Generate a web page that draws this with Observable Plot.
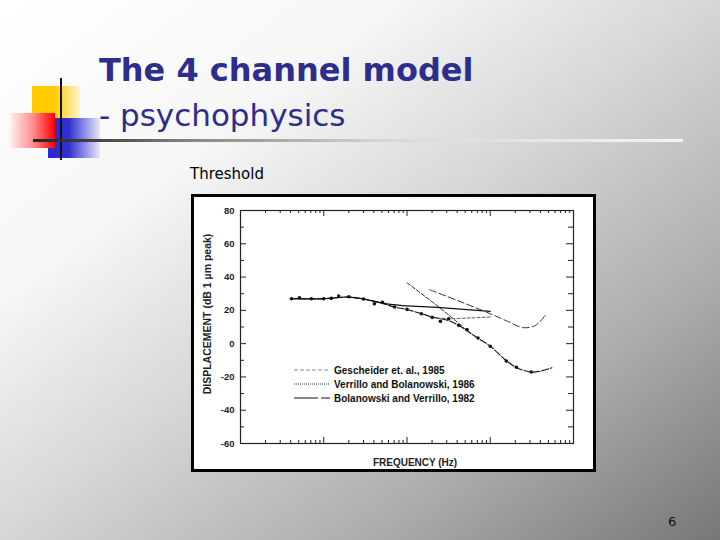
<!DOCTYPE html>
<html>
<head>
<meta charset="utf-8">
<script src="https://cdn.jsdelivr.net/npm/d3@7"></script>
<script src="https://cdn.jsdelivr.net/npm/@observablehq/plot@0.6"></script>
<style>
  html, body { margin: 0; padding: 0; }
  body {
    width: 720px; height: 540px; position: relative; overflow: hidden;
    background: linear-gradient(to bottom right, #ffffff 0%, #f6f6f6 28%, #d6d6d6 50%, #adadad 75%, #777777 100%);
    font-family: "DejaVu Sans", sans-serif;
  }
  .abs { position: absolute; }
  #t1 { left: 99px; top: 51px; font-size: 32px; font-weight: bold; color: #2d2d8c; white-space: nowrap; }
  #t2 { left: 99px; top: 97px; font-size: 31px; color: #2d2d8c; white-space: nowrap; }
  #sub { left: 190px; top: 165px; font-size: 15px; color: #000; }
  #num { left: 668px; top: 514px; font-size: 13px; color: #111; }
  #box { left: 191px; top: 194px; width: 399px; height: 272px; border: 3px solid #000; background: #fff; }
  #legend { left: 294px; top: 363px; font-family: "Liberation Sans", Arial, sans-serif; font-weight: bold; font-size: 10px; color: #111; }
  #legend div { height: 14px; display: flex; align-items: center; }
  #legend svg { margin-right: 4px; }
</style>
</head>
<body>
<!-- decorative squares -->
<div class="abs" style="left:32px;top:86px;width:48px;height:45px;background:linear-gradient(to right,#ffcc00 0%,#ffcc00 45%,#fff3cc 100%);"></div>
<div class="abs" style="left:48px;top:118px;width:52px;height:40px;background:linear-gradient(to right,#2a2ad0 0%,#3030d0 40%,#e8e8f8 100%);"></div>
<div class="abs" style="left:10px;top:113px;width:45px;height:35px;background:linear-gradient(to right,#fff0f0 0%,#ff9090 50%,#ff0000 100%);"></div>
<div class="abs" style="left:60px;top:78px;width:2px;height:82px;background:#111;"></div>
<div class="abs" style="left:33px;top:139px;width:650px;height:3px;background:linear-gradient(to right,#222 0%,#444 10%,#888 25%,#d8d8d8 55%,#f4f4f4 100%);"></div>

<div id="t1" class="abs">The 4 channel model</div>
<div id="t2" class="abs">- psychophysics</div>
<div id="sub" class="abs">Threshold</div>
<div id="box" class="abs"></div>
<div id="legend" class="abs"></div>
<div id="num" class="abs">6</div>

<script>
// ---- data ----
const xTicks = [0.1, 1, 10, 100, 1000];
const xTickLabels = ["0.1", "1.0", "10", "100", "1000"];
const yTicks = [-60, -40, -20, 0, 20, 40, 60, 80];
const yMinorTicks = [-50, -30, -10, 10, 30, 50, 70];

// measured points (filled dots)
const dotFreq = [0.41, 0.51, 0.71, 1.0, 1.23, 1.51, 2.0, 3.0, 4.06, 5.07, 7.1, 10, 14.9, 20, 25.2, 31.7, 41.8, 52.6, 71.3, 100, 156, 206, 311];
const dotDb   = [27.0, 27.6, 27.0, 27.0, 27.2, 28.6, 28.2, 26.8, 24.0, 24.8, 22.0, 20.6, 18.0, 15.8, 13.4, 15.0, 11.0, 8.4, 3.4, -1.6, -10.5, -14.2, -17.0];

// curve through the dots (Bolanowski and Verrillo, 1982)
const aFreq = [0.4, 1, 2, 3, 5, 7, 10, 15, 20, 30, 40, 50, 70, 100, 150, 200, 300, 400, 550];
const aDb   = [27, 27, 28, 26.8, 24.3, 22, 20.5, 18, 16, 14.2, 11.5, 8.5, 3.5, -1.5, -9.5, -14, -17, -16.5, -14.5];
// upper flat curve
const bFreq = [0.4, 1, 2, 3, 6.3, 25, 100];
const bDb   = [27, 27, 28, 26.8, 23.6, 21.6, 19.4];
// steep curve (Verrillo and Bolanowski, 1986)
const cFreq = [10, 24.7, 40, 55, 70];
const cDb   = [36.6, 21.6, 13, 7, 3.5];
// U-shaped curve (Gescheider et al., 1985)
const dFreq = [18.7, 40, 100, 160, 250, 350, 458];
const dDb   = [32.4, 26, 18, 13.5, 9.6, 11, 17];
// lower concave curve
const eFreq = [20, 33, 60, 100];
const eDb   = [15.5, 15, 15.5, 16];

const legendLabels = ["Gescheider et. al., 1985", "Verrillo and Bolanowski, 1986", "Bolanowski and Verrillo, 1982"];
const legendStroke = ["#888", "#333", "#111"];
const legendDash = ["4,2", "1,1", "24,3"];

const zip = (fs, ds) => fs.map((f, i) => ({f, db: ds[i]}));
const dots = zip(dotFreq, dotDb);
const curves = [
  {data: zip(aFreq, aDb), stroke: "#111", dash: "7,2", w: 1.1},
  {data: zip(bFreq, bDb), stroke: "#111", dash: null, w: 1.2},
  {data: zip(cFreq, cDb), stroke: "#222", dash: "4,2", w: 1},
  {data: zip(dFreq, dDb), stroke: "#333", dash: "7,3", w: 1},
  {data: zip(eFreq, eDb), stroke: "#555", dash: "3,2", w: 1}
];

const allX = d3.scaleLog().domain([0.1, 1000]).ticks();
const xMinor = allX.filter(v => !xTicks.includes(v));

const W = 399, H = 272, ML = 46, MR = 20, MT = 13, MB = 26;
const FW = W - ML - MR, FH = H - MT - MB;
const font = "Liberation Sans, Arial, sans-serif";

const chart = Plot.plot({
  width: W, height: H,
  marginLeft: ML, marginRight: MR, marginTop: MT, marginBottom: MB,
  style: {background: "transparent", fontFamily: font, fontSize: "9.5px", fontWeight: "bold", color: "#222"},
  x: {type: "log", domain: [0.1, 1000]},
  y: {domain: [-60, 80]},
  marks: [
    Plot.frame({stroke: "#222", strokeWidth: 1.2}),
    // inward ticks: top & bottom
    Plot.tickX(xTicks, {x: d => d, insetBottom: FH - 6, stroke: "#222"}),
    Plot.tickX(xMinor, {x: d => d, insetBottom: FH - 3, stroke: "#222"}),
    Plot.tickX(xTicks, {x: d => d, insetTop: FH - 6, stroke: "#222"}),
    Plot.tickX(xMinor, {x: d => d, insetTop: FH - 3, stroke: "#222"}),
    // inward ticks: left & right
    Plot.tickY(yTicks, {y: d => d, insetRight: FW - 6, stroke: "#222"}),
    Plot.tickY(yMinorTicks, {y: d => d, insetRight: FW - 4, stroke: "#222"}),
    Plot.tickY(yTicks, {y: d => d, insetLeft: FW - 7, stroke: "#222"}),
    Plot.tickY(yMinorTicks, {y: d => d, insetLeft: FW - 5, stroke: "#222"}),
    Plot.axisX({ticks: xTicks, tickFormat: (d, i) => xTickLabels[i], tickSize: 0, tickPadding: 4, label: null, fontWeight: "bold"}),
    Plot.axisY({ticks: yTicks, tickFormat: d => String(d), tickSize: 0, tickPadding: 6, label: null, fontWeight: "bold"}),
    Plot.text(["DISPLACEMENT (dB 1 \u00b5m peak)"], {frameAnchor: "left", textAnchor: "middle", rotate: -90, dx: -33, dy: -13, fontSize: 10.5, fontWeight: "bold", fill: "#222"}),
    Plot.text(["FREQUENCY (Hz)"], {frameAnchor: "bottom", dx: 8, dy: 22, fontSize: 10, fontWeight: "bold", fill: "#222"}),
    ...curves.map(c => Plot.line(c.data, {x: "f", y: "db", stroke: c.stroke, strokeWidth: c.w, strokeDasharray: c.dash, curve: "catmull-rom"})),
    Plot.dot(dots, {x: "f", y: "db", r: 1.8, fill: "#111", stroke: null})
  ]
});
chart.style.position = "absolute";
chart.style.left = "0px";
chart.style.top = "0px";
document.getElementById("box").appendChild(chart);

// legend
const leg = document.getElementById("legend");
legendLabels.forEach((lab, i) => {
  const row = document.createElement("div");
  row.innerHTML = `<svg width="36" height="4"><line x1="0" y1="2" x2="36" y2="2" stroke="${legendStroke[i]}" stroke-width="1" stroke-dasharray="${legendDash[i]}"/></svg><span>${lab}</span>`;
  leg.appendChild(row);
});
</script>
</body>
</html>
